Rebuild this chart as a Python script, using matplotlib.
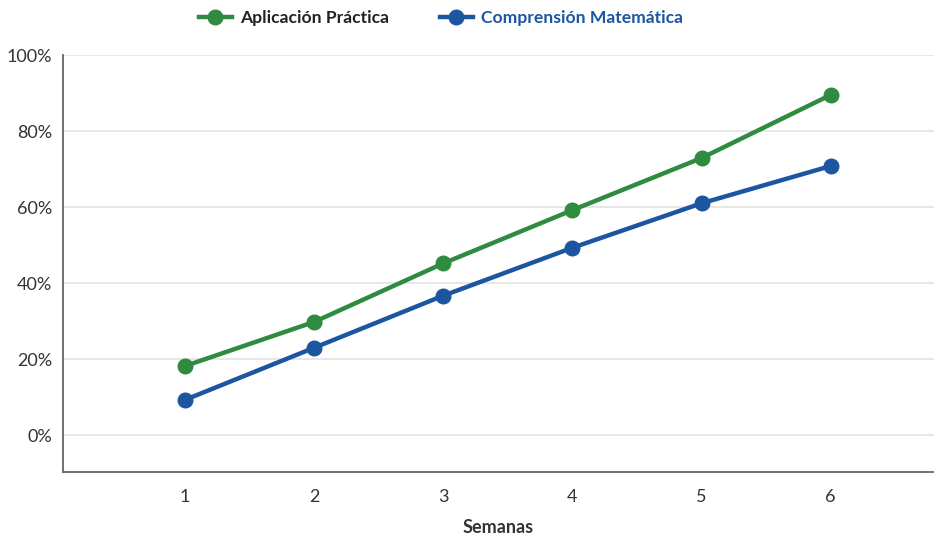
import matplotlib
matplotlib.use("Agg")
import matplotlib.pyplot as plt
from matplotlib.ticker import FuncFormatter

plt.rcParams['font.family'] = ['Lato', 'DejaVu Sans']

semanas = [1, 2, 3, 4, 5, 6]
aplicacion = [18.2, 29.8, 45.2, 59.2, 72.9, 89.5]
comprension = [9.3, 23.0, 36.7, 49.3, 61.0, 70.8]
series_names = ["Aplicación Práctica", "Comprensión Matemática"]
yticks = [0, 20, 40, 60, 80, 100]

green = "#2e8b3f"
blue = "#1c56a0"

fig = plt.figure(figsize=(9.34, 5.34), dpi=100)
ax = fig.add_axes([0.0675, 0.116, 0.9325, 0.781])

ax.plot(semanas, aplicacion, color=green, lw=3.2, marker='o', ms=10.5, label=series_names[0], zorder=3)
ax.plot(semanas, comprension, color=blue, lw=3.2, marker='o', ms=10.5, label=series_names[1], zorder=3)

ax.set_xlim(0.055, 6.8)
ax.set_ylim(-9.7, 100)
ax.set_yticks(yticks)
ax.yaxis.set_major_formatter(FuncFormatter(lambda v, p: f"{int(v)}%"))
ax.set_xticks(semanas)
ax.grid(axis='y', color='#e3e3e3', lw=1.2)
ax.set_axisbelow(True)
for s in ['top', 'right']:
    ax.spines[s].set_visible(False)
for s in ['left', 'bottom']:
    ax.spines[s].set_color('#666666')
    ax.spines[s].set_linewidth(1.3)
ax.tick_params(length=0, labelsize=13, colors='#333333', pad=8)
ax.tick_params(axis='x', pad=12)
ax.set_xlabel("Semanas", fontsize=13, fontweight='bold', color='#333333', labelpad=10)

leg = fig.legend(loc='upper left', bbox_to_anchor=(0.196, 1.01), ncol=2, frameon=False,
                 handlelength=1.9, columnspacing=2.9, handletextpad=0.45,
                 prop={'weight': 'bold', 'size': 12.6})
texts = leg.get_texts()
texts[0].set_color('#222222')
texts[1].set_color(blue)

fig.savefig("out.png", dpi=100)
